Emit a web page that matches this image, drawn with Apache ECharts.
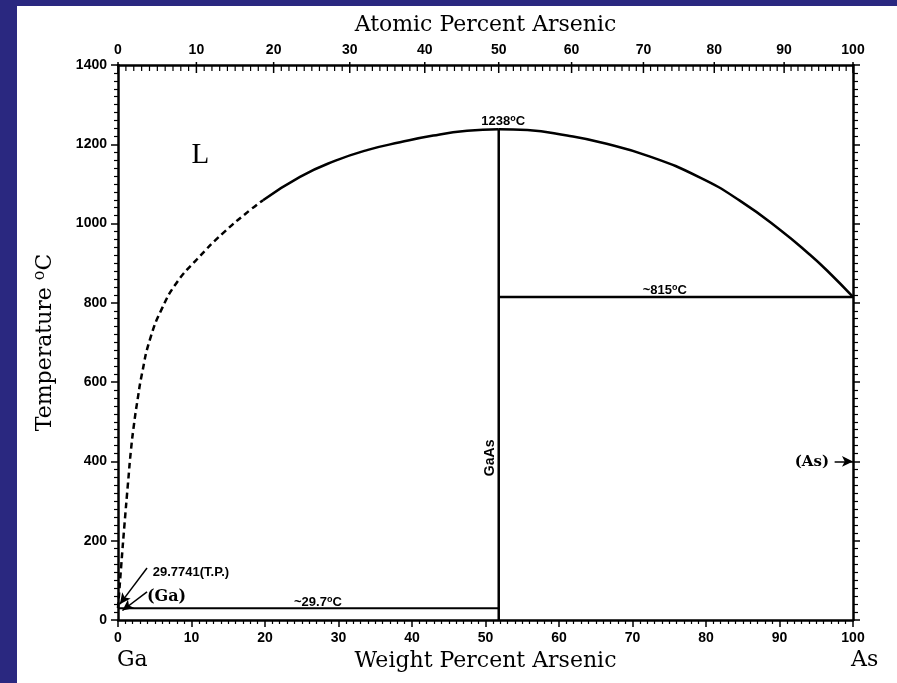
<!DOCTYPE html>
<html><head><meta charset="utf-8">
<script src="https://cdn.jsdelivr.net/npm/echarts@6/dist/echarts.min.js"></script>
<style>html,body{margin:0;padding:0;background:#2a2880;}#c{width:897px;height:683px;}</style>
</head><body><div id="c"></div>
<script>
// ---- data (weight % As, temperature °C) ----
const liqDashW = [0, 0.45, 0.9, 1.36, 1.77, 2.2, 2.59, 3.27, 4.35, 5.99, 8.03, 10.75, 14.29, 17.96, 19.73];
const liqDashT = [29.8, 140, 245, 345, 430, 497, 547, 622, 708, 786, 852, 910, 976, 1034, 1059];
const liqLeftW = [19.73, 24.76, 29.5, 34.0, 38.37, 42.9, 47.5, 51.8];
const liqLeftT = [1059, 1118, 1158, 1186, 1205, 1222, 1234, 1238];
const liqRightW = [51.8, 55.7, 61.1, 65.6, 72.4, 79.2, 84.6, 90.1, 94.1, 96.5, 100];
const liqRightT = [1238, 1236, 1222, 1205, 1169, 1116, 1058, 984, 922, 881, 815];
const gaAsW = [51.8, 51.8];
const gaAsT = [0, 1238];
const eutW = [0, 51.8];
const eutT = [29.7, 29.7];
const asEutW = [51.8, 100];
const asEutT = [815, 815];
const weightTickLabels = [0,10,20,30,40,50,60,70,80,90,100];
const tempTickLabels = [0,200,400,600,800,1000,1200,1400];
const atomicTickLabels = [0,10,20,30,40,50,60,70,80,90,100];
const atomicMinorStep = 1;
const M_GA = 69.723, M_AS = 74.9216;
function atomicToWeight(a){ return a*M_AS/(a*M_AS+(100-a)*M_GA)*100; }

// annotations: [weight%, temp, text key]
const annotations = [
  [11.2, 1173, 'L'],
  [52.4, 1258, 't1238'],
  [74.4, 832, 't815'],
  [27.2, 45, 't297'],
  [50.6, 409, 'GaAs'],
  [94.4, 399, 'As'],
  [9.93, 119, 'TP'],
  [6.6, 58, 'Ga']
];
const arrowLines = [
  [[97.5, 400], [100, 400]],
  [[3.95, 131], [0.25, 40]],
  [[3.95, 71], [0.6, 24]]
];

const atomicTicks = [];
for (let a = 0; a <= 100; a += atomicMinorStep) atomicTicks.push([a, 1400]);

const zip = (xs, ys) => xs.map((x, i) => [x, ys[i]]);
const BLK = '#000';
const tickFont = {fontFamily:'Liberation Sans', fontWeight:'bold', fontSize:14, color:BLK};
const titleFont = {fontFamily:'DejaVu Serif', fontSize:22, color:BLK};

function annoStyle(key){
  const sup = {fontFamily:'Liberation Sans', fontWeight:'bold', fontSize:9, fill:BLK, padding:[0,0,6,0]};
  const b = {fontFamily:'Liberation Sans', fontWeight:'bold', fontSize:13, fill:BLK};
  switch(key){
    case 'L': return {text:'L', fontFamily:'Liberation Serif', fontSize:29, fill:BLK};
    case 't1238': return {text:'{b|1238}{s|o}{b|C}', rich:{b:b, s:sup}};
    case 't815': return {text:'{b|~815}{s|o}{b|C}', rich:{b:b, s:sup}};
    case 't297': return {text:'{b|~29.7}{s|o}{b|C}', rich:{b:b, s:sup}};
    case 'GaAs': return {text:'GaAs', fontFamily:'Liberation Sans', fontWeight:'bold', fontSize:14, fill:BLK};
    case 'As': return {text:'(As)', fontFamily:'DejaVu Serif', fontWeight:'bold', fontSize:15, fill:BLK};
    case 'TP': return {text:'29.7741(T.P.)', fontFamily:'Liberation Sans', fontWeight:'bold', fontSize:13, fill:BLK};
    case 'Ga': return {text:'(Ga)', fontFamily:'DejaVu Serif', fontWeight:'bold', fontSize:16, fill:BLK};
  }
}

const lineBase = {type:'line', showSymbol:false, symbol:'none', silent:true, lineStyle:{color:BLK, width:2.5}};

const chart = echarts.init(document.getElementById('c'), null, {renderer:'canvas'});
chart.setOption({
  animation:false,
  backgroundColor:'#2a2880',
  graphic:[
    {type:'rect', left:17, top:6, shape:{width:880, height:677}, style:{fill:'#fff'}, z:-10},
    {type:'text', left:117, top:649, style:{text:'Ga', fontFamily:'DejaVu Serif', fontSize:22, fill:BLK}, z:10},
    {type:'text', left:851, top:649, style:{text:'As', fontFamily:'DejaVu Serif', fontSize:22, fill:BLK}, z:10}
  ],
  grid:{left:118, right:44, top:65, bottom:63},
  xAxis:[
    {type:'value', position:'bottom', min:0, max:100, interval:10,
     axisLine:{onZero:false, lineStyle:{color:BLK, width:2.5}},
     axisTick:{show:true, length:7, lineStyle:{color:BLK, width:1.5}},
     minorTick:{show:true, splitNumber:10, length:4, lineStyle:{color:BLK, width:1.2}},
     splitLine:{show:false},
     axisLabel:{...tickFont, margin:11, formatter:v=>weightTickLabels.includes(v)?String(v):''},
     name:'Weight Percent Arsenic', nameLocation:'middle', nameGap:28, nameTextStyle:titleFont},
    {type:'value', position:'top', min:0, max:100,
     axisLine:{onZero:false, lineStyle:{color:BLK, width:2.5}},
     axisTick:{show:false}, axisLabel:{show:false}, splitLine:{show:false},
     name:'Atomic Percent Arsenic', nameLocation:'middle', nameGap:29, nameTextStyle:titleFont}
  ],
  yAxis:[
    {type:'value', position:'left', min:0, max:1400, interval:200,
     axisLine:{show:true, onZero:false, lineStyle:{color:BLK, width:2.5}},
     axisTick:{show:true, length:7, lineStyle:{color:BLK, width:1.5}},
     minorTick:{show:true, splitNumber:10, length:4, lineStyle:{color:BLK, width:1.2}},
     splitLine:{show:false},
     axisLabel:{...tickFont, margin:11, formatter:v=>tempTickLabels.includes(v)?String(v):''},
     name:'{t|Temperature }{s|o}{t|C}', nameLocation:'middle', nameGap:60, nameRotate:90,
     nameTextStyle:{rich:{t:titleFont, s:{fontFamily:'DejaVu Serif', fontSize:16, color:BLK, padding:[0,0,10,0]}}}},
    {type:'value', position:'right', min:0, max:1400, interval:200,
     axisLine:{show:true, onZero:false, lineStyle:{color:BLK, width:2.5}},
     axisTick:{show:true, length:7, lineStyle:{color:BLK, width:1.5}},
     minorTick:{show:true, splitNumber:10, length:5, lineStyle:{color:BLK, width:1.2}},
     splitLine:{show:false}, axisLabel:{show:false}}
  ],
  series:[
    {...lineBase, name:'liq-dash', smooth:0.5, data:zip(liqDashW, liqDashT), lineStyle:{color:BLK, width:2.5, type:[6,4]}},
    {...lineBase, name:'liq-left', smooth:0.5, data:zip(liqLeftW, liqLeftT)},
    {...lineBase, name:'liq-right', smooth:0.5, data:zip(liqRightW, liqRightT)},
    {...lineBase, name:'gaas', data:zip(gaAsW, gaAsT)},
    {...lineBase, name:'eut', data:zip(eutW, eutT), lineStyle:{color:BLK, width:2}},
    {...lineBase, name:'asEut', data:zip(asEutW, asEutT),
     markLine:{silent:true, symbol:['none','arrow'], symbolSize:[8,11], animation:false,
       lineStyle:{color:BLK, width:1.5, type:'solid'}, label:{show:false},
       data:arrowLines.map(l=>[{coord:l[0]},{coord:l[1]}])}},
    {type:'custom', name:'topAxis', silent:true, clip:false, data:atomicTicks,
     renderItem:(params, api)=>{
       const a = api.value(0);
       const p = api.coord([atomicToWeight(a), api.value(1)]);
       const major = atomicTickLabels.includes(a);
       const ch = [{type:'line', shape:{x1:p[0], y1:p[1]-(major?3:0), x2:p[0], y2:p[1]+(major?8:6)},
                    style:{stroke:BLK, lineWidth:major?1.5:1.2}}];
       if (major) ch.push({type:'text', x:p[0], y:p[1]-8,
                    style:{text:String(a), fontFamily:'Liberation Sans', fontWeight:'bold', fontSize:14, fill:BLK, align:'center', verticalAlign:'bottom'}});
       return {type:'group', children:ch};
     }},
    {type:'custom', name:'annotations', silent:true, clip:false, data:annotations.map(a=>[a[0], a[1]]),
     renderItem:(params, api)=>{
       const key = annotations[params.dataIndex][2];
       const p = api.coord([api.value(0), api.value(1)]);
       const st = Object.assign({align:'center', verticalAlign:'middle'}, annoStyle(key));
       return {type:'text', x:p[0], y:p[1], rotation: key==='GaAs'?Math.PI/2:0, style:st};
     }}
  ]
});
</script></body></html>
